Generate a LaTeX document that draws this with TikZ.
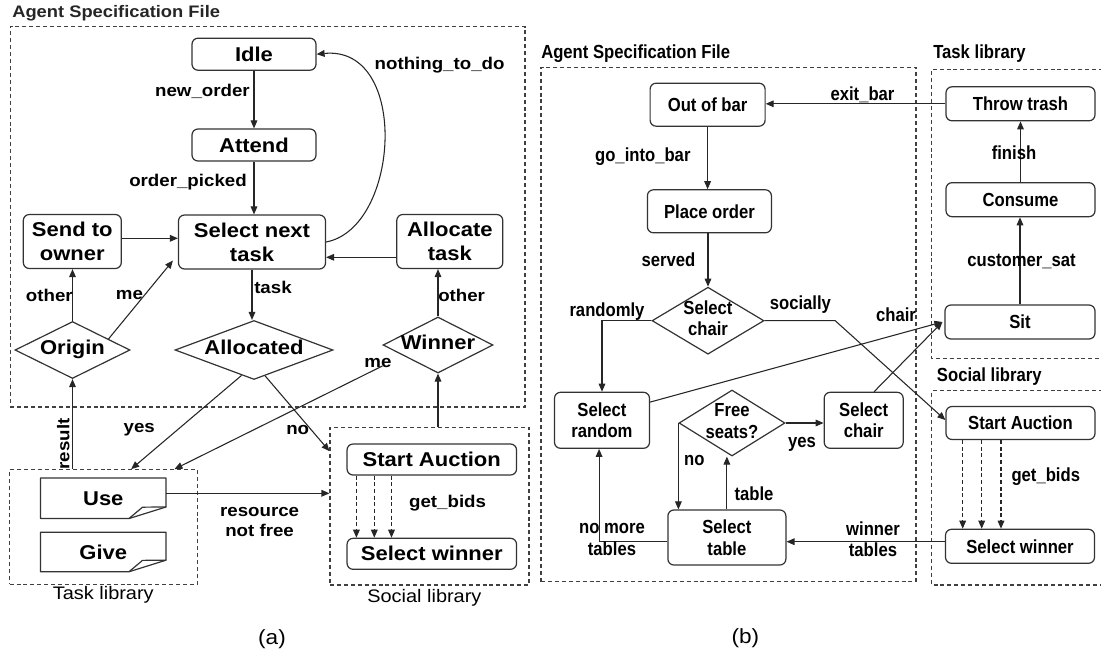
\documentclass[tikz,border=0pt]{standalone}
\usepackage{fontspec}
\setmainfont{Liberation Sans}
\newfontfamily\fa[FakeStretch=1.1]{Liberation Sans}
\newfontfamily\fb[FakeStretch=0.88]{Liberation Sans}
\usetikzlibrary{shapes.geometric,arrows.meta,calc}
\newcommand\zw[1]{\makebox[0pt]{\begin{tabular}{@{}c@{}}#1\end{tabular}}}
\tikzset{
  sz/.style 2 args={minimum width=#1*0.75pt, minimum height=#2*0.75pt},
  boxline/.style={draw=black!80, line width=0.9pt},
  boxa/.style={boxline, rounded corners=4.5pt, inner sep=0pt, align=center, font=\fa\bfseries\fontsize{15}{18}\selectfont},
  notea/.style={inner sep=0pt, align=center, font=\fa\bfseries\fontsize{15}{18}\selectfont},
  diaa/.style={diamond, aspect=1, boxline, inner sep=0pt, align=center, font=\fa\bfseries\fontsize{15}{18}\selectfont},
  laba/.style={inner sep=0pt, align=center, font=\fa\bfseries\fontsize{12.75}{15}\selectfont},
  capa/.style={inner sep=0pt, align=center, font=\fa\fontsize{13.6}{16}\selectfont},
  titlea/.style={inner sep=0pt, font=\fa\bfseries\fontsize{12.5}{15}\selectfont, text=black!85},
  boxb/.style={boxline, rounded corners=4.5pt, inner sep=0pt, align=center, font=\fb\bfseries\fontsize{14.2}{16.3}\selectfont},
  diab/.style={diamond, aspect=1, boxline, inner sep=0pt, align=center, font=\fb\bfseries\fontsize{14.2}{16.3}\selectfont},
  labb/.style={inner sep=0pt, align=center, font=\fb\bfseries\fontsize{14.2}{16.3}\selectfont},
  capsub/.style={inner sep=0pt, font=\fa\fontsize{15.4}{18}\selectfont},
  dbox/.style={draw=black!75, line width=0.8pt, dash pattern=on 3pt off 2.2pt},
  arr/.style={-{Triangle[length=6pt,width=5pt]}, line width=0.8pt, draw=black!85},
}
\begin{document}
\begin{tikzpicture}[x=0.75pt,y=-0.75pt]
\useasboundingbox[fill=white] (0,0) rectangle (1101,654);

% ================= (a) =================
\node[titlea, anchor=west] (tA) at (12,13.3) {Agent Specification File};
\node[dbox, sz={514.7}{380.3}] (asfA) at (267.65,216.85) {};

\node[boxa, sz={124}{32}] (idle) at (254,54.2) {Idle};
\node[boxa, sz={124}{32}] (attend) at (254,145) {Attend};
\node[boxa, sz={147}{54}] (sel) at (252,242) {Select next\\task};
\node[boxa, sz={98}{54}] (send) at (72.3,241.5) {Send to\\owner};
\node[boxa, sz={106}{54}] (alloc) at (449.8,241.5) {Allocate\\task};
\node[diaa, sz={115}{57}] (origin) at (72.5,350) {\zw{Origin}};
\node[diaa, sz={158}{59}] (allocd) at (254,350) {\zw{Allocated}};
\node[diaa, sz={110}{56}] (winner) at (438,345) {\zw{Winner}};

\node[dbox, sz={187.7}{114.7}] (tasklibA) at (103.45,527) {};
\node[notea, sz={125}{40}] (use) at (103.3,498.3) {Use};
\node[notea, sz={125}{39}] (give) at (103.3,552) {Give};
\foreach \n in {use,give}{
  \draw[boxline, line join=round] (\n.north west) -- (\n.north east) -- ($(\n.south east)+(0,-11.6)$)
    -- ($(\n.south west)+(88.4,0)$) -- (\n.south west) -- cycle;
  \draw[boxline, line join=round] ($(\n.south west)+(88.4,0)$) .. controls ($(\n.south west)+(96,-6)$) .. ($(\n.south west)+(102,-11.4)$) -- ($(\n.south east)+(0,-11.6)$);
}
\node[capa] (tlcapA) at (103.3,595) {Task library};

\node[dbox, sz={199}{157.7}] (soclibA) at (429.5,506.15) {};
\node[boxa, sz={169.5}{31}] (start) at (431.8,459.5) {Start Auction};
\node[boxa, sz={169.5}{31}] (selw) at (431.8,553.8) {Select winner};
\node[capa] (slcapA) at (424.4,597.7) {Social library};

\draw[arr] (idle) -- (attend);
\node[laba, anchor=east] (l1) at (250,91) {new\_order};
\draw[arr] (attend.south) -- (attend.south |- sel.north);
\node[laba, anchor=east] (l2) at (247,181.7) {order\_picked};
\draw[arr] (sel.east) .. controls (400,228) and (410,45) .. (idle.east);
\node[laba] (l3) at (439.6,65) {nothing\_to\_do};
\draw[arr] (sel.south) -- (sel.south |- allocd.north);
\node[laba, anchor=west] (l4) at (254,287.3) {task};
\draw[arr] (origin.north) -- (origin.north |- send.south);
\node[laba, anchor=east] (l5) at (73,295) {other};
\draw[arr] ($(origin.north)!0.62!(origin.east)$) -- ($(sel.south west)+(-5,-9)$);
\node[laba] (l6) at (129.5,295) {me};
\draw[arr] (winner.north) -- (winner.north |- alloc.south);
\node[laba, anchor=west] (l7) at (438,295) {other};
\draw[arr] ([yshift=2.4pt]send.east) -- ([yshift=2.4pt]send.east -| sel.west);
\draw[arr] ([yshift=-11.85pt]alloc.west) -- ([yshift=-11.85pt]alloc.west -| sel.east);

\draw[arr] ($(winner.west)+(0,21)$) -- ($(tasklibA.north west)+(165.4,0)$);
\node[laba] (l8) at (378,362.7) {me};
\draw[arr] ($(allocd.south)!0.156!(allocd.west)$) -- ($(tasklibA.north west)+(122.1,0)$);
\node[laba] (l9) at (139.3,430) {yes};
\draw[arr] ($(allocd.south)!0.14!(allocd.east)$) -- ($(soclibA.north west)+(0,24.4)$);
\node[laba] (l10) at (297.7,430) {no};
\draw[arr] (tasklibA.north -| origin.south) -- (origin.south);
\node[laba, rotate=90] (l11) at (63.3,444) {result};
\draw[arr] (soclibA.north -| winner.south) -- (winner.south);
\draw[arr] ([yshift=3.75pt]use.east) -- ([yshift=3.75pt]use.east -| soclibA.west);
\node[laba] (l12) at (259.6,522) {resource\\not free};
\foreach \dx in {356.4,374.3,391.5}
  \draw[arr, dash pattern=on 3pt off 2pt] (start.south -| \dx,0) -- (selw.north -| \dx,0);
\node[laba] (l13) at (447.6,503.3) {get\_bids};
\node[capsub] (capA) at (272,639.3) {(a)};

% ================= (b) =================
\node[labb, anchor=west] (tB) at (541,53.3) {Agent Specification File};
\node[dbox, sz={375}{514.4}] (asfB) at (728.5,324.5) {};
\node[labb, anchor=west] (tlB) at (933,53.3) {Task library};
\draw[dbox] (1110,69.3) -| (931.7,358.3) -- (1110,358.3);
\node[labb, anchor=west] (slB) at (936.7,376.7) {Social library};
\draw[dbox] (1110,390.7) -| (931.7,585) -- (1110,585);

\node[boxb, sz={115}{43}] (outbar) at (707.6,104.7) {Out of bar};
\node[boxb, sz={124}{43}] (place) at (709.4,211.3) {Place order};
\node[diab, sz={112}{67}] (selchD) at (708,320.7) {\zw{Select\\chair}};
\node[boxb, sz={149}{34}] (throw) at (1020.5,103.8) {Throw trash};
\node[boxb, sz={149}{34}] (consume) at (1020.5,199.7) {Consume};
\node[boxb, sz={150}{34}] (sit) at (1020,322) {Sit};
\node[boxb, sz={95}{56}] (selrand) at (602,420.3) {Select\\random};
\node[diab, sz={106}{66}] (freeD) at (732,423) {\zw{Free\\seats?}};
\node[boxb, sz={79}{56}] (selchB) at (863.7,420.3) {Select\\chair};
\node[boxb, sz={118}{55}] (seltab) at (726.9,537.5) {Select\\table};
\node[boxb, sz={149}{33}] (startB) at (1020.5,423) {Start Auction};
\node[boxb, sz={149}{34}] (selwB) at (1020,546.3) {Select winner};
\coordinate (sitin) at ($(sit.west)+(-2,0)$);

\draw[arr] (throw.west) -- (throw.west -| outbar.east);
\node[labb] (m1) at (862.5,95) {exit\_bar};
\draw[arr] (outbar.south) -- (outbar.south |- place.north);
\node[labb] (m2) at (642.8,156.7) {go\_into\_bar};
\draw[arr] (selchD.north |- place.south) -- (selchD.north);
\node[labb] (m3) at (668.4,260) {served};
\draw[arr] (selchD.west) -| (selrand.north);
\node[labb] (m4) at (607,311.7) {randomly};
\draw[arr] (selchD.east) -- (selchD.east -| 835.2,0) -- ($(startB.west)+(0,-3)$);
\node[labb] (m5) at (800.4,305) {socially};
\node[labb] (m6) at (896,315) {chair};
\draw[arr] ($(selrand.north east)+(0,10.4)$) -- (sitin);
\draw[arr] ($(selchB.north)+(10.4,0)$) -- (sitin);
\draw[arr] (freeD.east) -- (freeD.east -| selchB.west);
\node[labb] (m7) at (802,444.3) {yes};
\draw[arr] (freeD.west) -- (freeD.west |- seltab.north);
\node[labb] (m8) at (694.4,460.7) {no};
\draw[arr] (seltab.north) -- (seltab.north |- freeD.south);
\node[labb] (m9) at (754,493.3) {table};
\draw[arr] ([yshift=-3.1pt]seltab.west) -| ([xshift=-2.2pt]selrand.south);
\node[labb] (m10) at (612,539.2) {no more\\tables};
\draw[arr] ([yshift=3.45pt]selwB.west) -- ([yshift=3.45pt]selwB.west -| seltab.east);
\node[labb] (m11) at (873,539.2) {winner\\tables};
\foreach \dx in {962.7,981.7,1001}
  \draw[arr, dash pattern=on 3pt off 2pt] (startB.south -| \dx,0) -- (selwB.north -| \dx,0);
\node[labb] (m12) at (1045.8,476.7) {get\_bids};
\draw[arr] (consume.north) -- (throw.south);
\node[labb] (m13) at (1014,152.5) {finish};
\draw[arr] (sit.north) -- (sit.north |- consume.south);
\node[labb] (m14) at (1021.6,261) {customer\_sat};
\node[capsub] (capB) at (745.3,638.3) {(b)};
\end{tikzpicture}
\end{document}
